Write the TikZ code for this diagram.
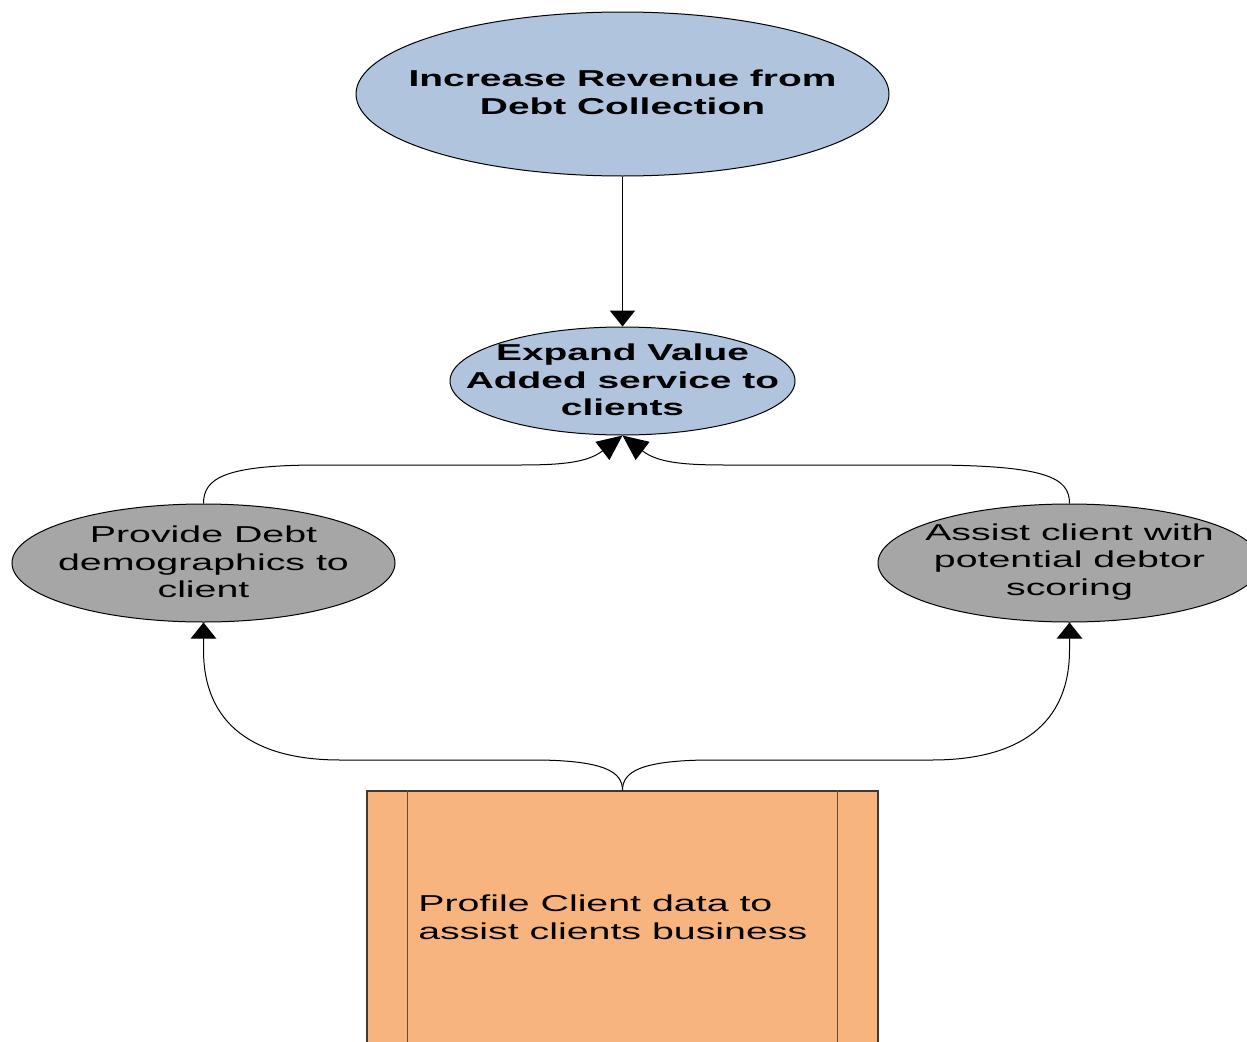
\documentclass[tikz,border=0pt]{standalone}
\usepackage{fontspec}
\setmainfont{Liberation Sans}
\newfontfamily\wfont[FakeStretch=1.71]{Liberation Sans}
\newfontfamily\wbfont[FakeStretch=1.69]{Liberation Sans}
\usetikzlibrary{shapes.geometric,arrows.meta}
\definecolor{goalblue}{RGB}{176,196,222}
\definecolor{subgray}{RGB}{166,166,166}
\definecolor{boxorange}{RGB}{247,180,126}
\definecolor{boxline}{RGB}{70,55,40}
\definecolor{boxinner}{RGB}{105,75,50}
\begin{document}
\begin{tikzpicture}[x=0.75pt,y=-0.75pt,
  oval/.style={ellipse, draw=black, line width=0.75pt, inner sep=0pt},
  lbl/.style={align=center, inner sep=0pt, font=\wfont\fontsize{17.25}{20.8}\selectfont},
  blbl/.style={align=center, inner sep=0pt, font=\wbfont\bfseries\fontsize{17.25}{20.8}\selectfont},
  conn/.style={line width=0.75pt, -{Triangle[width=19pt,length=12pt]}},
  sideconn/.style={line width=0.75pt, -{Triangle[width=17pt,length=19pt]}}]
\useasboundingbox (0,0) rectangle (1247,1042);
\clip (0,0) rectangle (1247,1042);
\fill[white] (0,0) rectangle (1247,1042);
% nodes
\node[oval, fill=goalblue, minimum width=399.75pt, minimum height=123pt] (top) at (622.5,94) {};
\node[blbl] (toptext) at (622.5,92) {Increase Revenue from\\Debt Collection};
\node[oval, fill=goalblue, minimum width=258.75pt, minimum height=81pt] (mid) at (622.5,381) {};
\node[blbl] (midtext) at (622.5,380) {Expand Value\\Added service to\\clients};
\node[oval, fill=subgray, minimum width=287.25pt, minimum height=88.5pt] (left) at (203.5,563) {};
\node[lbl] (lefttext) at (203.5,562) {Provide Debt\\demographics to\\client};
\node[oval, fill=subgray, minimum width=287.25pt, minimum height=88.5pt] (right) at (1069.5,563) {};
\node[lbl] (righttext) at (1069.5,562) {Assist client with\\potential debtor\\scoring};
\node[draw=boxline, line width=1.1pt, fill=boxorange, minimum width=383.25pt, minimum height=231pt, inner sep=0pt] (box) at (622.5,945) {};
\draw[boxinner, line width=1.1pt] ([xshift=30.75pt]box.north west) -- ([xshift=30.75pt]box.south west);
\draw[boxinner, line width=1.1pt] ([xshift=-30.75pt]box.north east) -- ([xshift=-30.75pt]box.south east);
\node[lbl, align=left, anchor=west] (boxtext) at (418,917) {Profile Client data to\\assist clients business};
% connectors
\draw[conn] (top.south) -- (mid.north);
\draw[sideconn] (left.north) .. controls (203.5,478) and (225,465) .. (320,465) -- (520,465) .. controls (565,465) and (588,462) .. (mid.south);
\draw[sideconn] (right.north) .. controls (1069.5,478) and (1048,465) .. (925,465) -- (725,465) .. controls (680,465) and (657,462) .. (mid.south);
\draw[conn] (box.north) .. controls (622.5,772) and (605,761) .. (540,760) -- (340,760) .. controls (255,760) and (203.5,725) .. (203.5,650) -- (left.south);
\draw[conn] (box.north) .. controls (622.5,772) and (640,761) .. (705,760) -- (932,760) .. controls (1018,760) and (1069.5,725) .. (1069.5,650) -- (right.south);
\end{tikzpicture}
\end{document}
